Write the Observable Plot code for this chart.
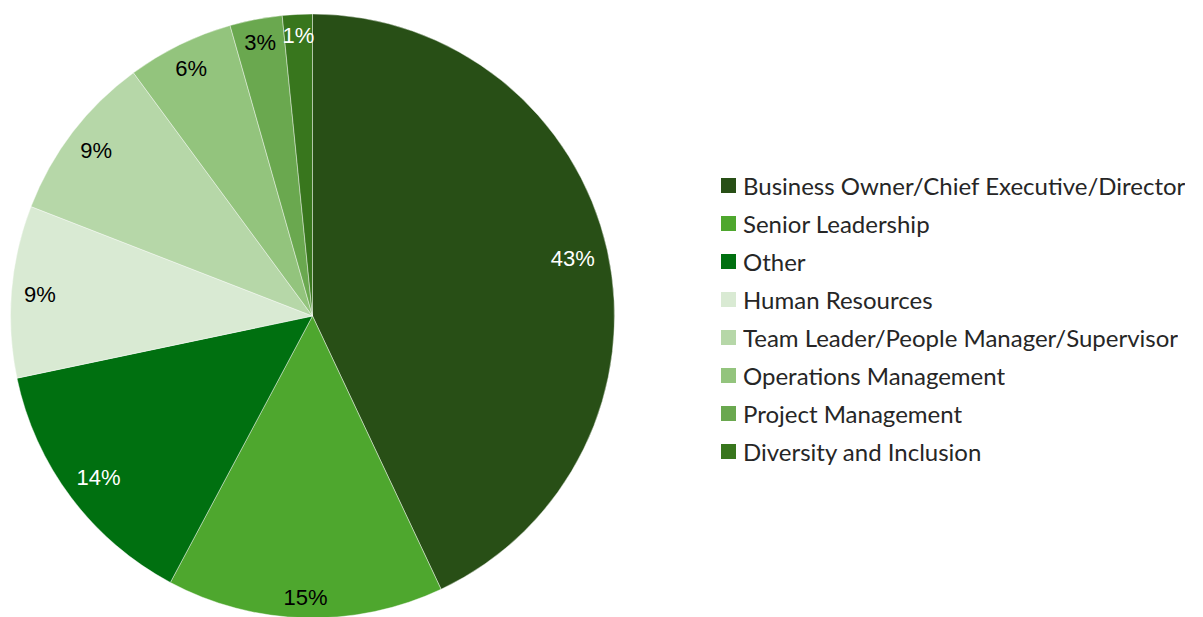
<!DOCTYPE html>
<html><head><meta charset="utf-8">
<script src="https://cdn.jsdelivr.net/npm/d3@7"></script>
<script src="https://cdn.jsdelivr.net/npm/@observablehq/plot@0.6"></script>
<style>
html,body{margin:0;padding:0;background:#fff;}
#chart{position:relative;width:1203px;height:617px;overflow:hidden;}
#pie{position:absolute;left:0;top:0;}
#legend{position:absolute;left:721px;top:167px;}
.leg-swatches{width:480px;margin:0 !important;}
.leg-swatch{height:37.9px;padding:0 !important;margin:0 !important;}
.leg-swatch svg{margin-right:7px !important;}
.leg-swatch span, .leg-swatch{white-space:nowrap;overflow:visible !important;}
</style></head><body><div id="chart"><div id="pie"></div><div id="legend"></div></div>
<script>
const roles = [
  "Business Owner/Chief Executive/Director",
  "Senior Leadership",
  "Other",
  "Human Resources",
  "Team Leader/People Manager/Supervisor",
  "Operations Management",
  "Project Management",
  "Diversity and Inclusion"
];
const shares = [43.0, 14.8, 13.9, 9.2, 9.0, 5.7, 2.8, 1.6];
const shareLabels = ["43%", "15%", "14%", "9%", "9%", "6%", "3%", "1%"];
const colors = ["#284f16", "#4ea72e", "#007010", "#d9ead3", "#b6d7a8", "#93c47d", "#6aa84f", "#38761d"];

const data = roles.map((role, i) => ({role, share: shares[i], label: shareLabels[i]}));
const colorOpts = {type: "ordinal", domain: roles, range: colors};
const color = Plot.scale({color: colorOpts});

const W = 1203, H = 617;
const pieCx = 312.5, pieCy = 316, pieR = 302;
const labelFont = 22, labelOuter = 290, labelBoxH = 16;

function labelPos(d) {
  const a = (d.startAngle + d.endAngle) / 2;
  const txt = d.data.label;
  const digits = txt.replace("%", "").length;
  const w = (digits * 0.556 + 0.889) * labelFont;
  const ext = (w / 2) * Math.abs(Math.sin(a)) + (labelBoxH / 2) * Math.abs(Math.cos(a));
  const r = labelOuter - ext;
  return [r * Math.sin(a), -r * Math.cos(a)];
}

function pieMark(index, scales, values, dims) {
  const g = d3.create("svg:g").attr("transform", `translate(${pieCx},${pieCy})`);
  const arcs = d3.pie().sort(null).value(d => d.share)(data);
  const arc = d3.arc().innerRadius(0).outerRadius(pieR);
  g.append("g").selectAll("path").data(arcs).join("path")
    .attr("d", arc)
    .attr("fill", d => color.apply(d.data.role))
    .attr("stroke", "#ffffff").attr("stroke-opacity", 0.6).attr("stroke-width", 0.7);
  g.append("g")
    .attr("font-family", "'Liberation Sans', Arial, sans-serif")
    .attr("font-size", labelFont)
    .selectAll("text").data(arcs).join("text")
    .attr("transform", d => `translate(${labelPos(d)})`)
    .attr("text-anchor", "middle")
    .attr("dy", "0.36em")
    .attr("fill", d => d3.lab(color.apply(d.data.role)).l > 60 ? "#000" : "#fff")
    .text(d => d.data.label);
  return g.node();
}

const plot = Plot.plot({
  width: W, height: H, margin: 0,
  style: {background: "#fff", overflow: "visible"},
  marks: [pieMark]
});
document.getElementById("pie").append(plot);

const legend = Plot.legend({
  color: colorOpts,
  legend: "swatches",
  columns: 1,
  swatchSize: 15,
  className: "leg",
  style: {fontFamily: "Lato, 'Open Sans', sans-serif", fontSize: "24px", color: "#262626"}
});
document.getElementById("legend").append(legend);
</script></body></html>
